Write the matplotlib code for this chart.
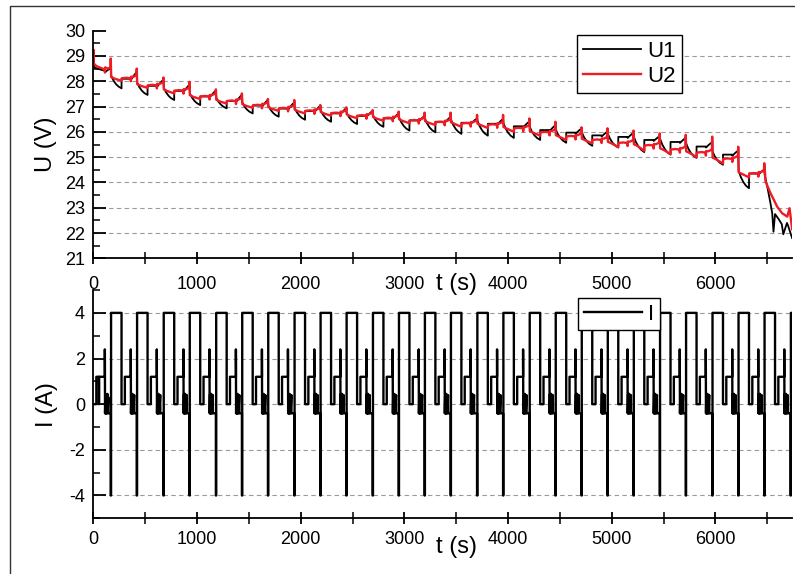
import numpy as np
import matplotlib
matplotlib.use("Agg")
import matplotlib.pyplot as plt
from matplotlib.lines import Line2D
from matplotlib.ticker import MultipleLocator
from matplotlib.transforms import blended_transform_factory

plt.rcParams["font.family"] = ["Liberation Sans", "DejaVu Sans"]
plt.rcParams["axes.unicode_minus"] = False

# times of the short -4 A pulses (s)
spike_t = [168, 419, 676, 927, 1182, 1433, 1684, 1938, 2189, 2440, 2694, 2945,
           3195, 3446, 3701, 3952, 4206, 4457, 4708, 4959, 5210, 5463, 5714,
           5969, 6220, 6471, 6725]

# current before the first pulse
i_head_t = [0, 29, 29, 53, 53, 56, 56, 111, 111, 113, 117, 118, 122, 123, 128, 129,
            136, 137, 145, 146, 166]
i_head_v = [0, 0, 1.2, 1.2, 0, 0, 1.2, 1.2, 2.4, -0.4, 0.45, -0.4, 0.35, -0.4, 0.3, -0.4,
            0.45, -0.4, 0.3, -0.4, -0.4]

# one current cycle, offsets from each -4 A pulse
i_cycle_dt = [0, 0, 3, 3, 104, 104, 136, 136, 193, 193, 195, 199, 200, 204, 205,
              210, 211, 217, 218, 226, 227, 248]
i_cycle_v = [-0.4, -4, -4, 4, 4, 0, 0, 1.2, 1.2, 2.4, -0.4, 0.45, -0.4, 0.35, -0.4,
             0.45, -0.4, 0.3, -0.4, 0.4, -0.4, -0.4]

# voltage levels per cycle (cycle k runs from pulse k-1 to pulse k)
u1_rest = [28.45, 28.10, 27.82, 27.62, 27.40, 27.22, 27.04, 26.92, 26.82, 26.73,
           26.63, 26.53, 26.45, 26.40, 26.36, 26.32, 26.22, 26.07, 25.97, 25.86,
           25.80, 25.68, 25.60, 25.42, 25.10, 24.35, 22.40]
u1_sag = [28.45, 27.72, 27.46, 27.26, 27.06, 26.93, 26.73, 26.60, 26.48, 26.40,
          26.31, 26.20, 26.05, 25.98, 25.92, 25.85, 25.76, 25.68, 25.57, 25.45,
          25.38, 25.20, 25.10, 24.97, 24.70, 23.77, 21.80]
u1_bump = [28.50, 28.35, 28.05, 27.85, 27.62, 27.45, 27.25, 27.15, 27.02, 26.93,
           26.82, 26.72, 26.62, 26.58, 26.52, 26.50, 26.40, 26.25, 26.12, 26.00,
           25.95, 25.82, 25.75, 25.58, 25.25, 24.50, 22.40]
u2_rest = [28.50, 28.12, 27.84, 27.63, 27.40, 27.22, 27.05, 26.93, 26.83, 26.74,
           26.64, 26.54, 26.45, 26.38, 26.33, 26.28, 26.14, 25.98, 25.82, 25.68,
           25.56, 25.46, 25.30, 25.18, 24.93, 24.35, 22.70]
u2_sag = [28.45, 28.02, 27.74, 27.52, 27.30, 27.12, 26.95, 26.83, 26.73, 26.64,
          26.54, 26.44, 26.34, 26.27, 26.20, 26.15, 26.00, 25.85, 25.68, 25.54,
          25.40, 25.25, 25.12, 25.00, 24.75, 24.20, 22.60]
# peaks at each -4 A pulse
u2_peak = [28.90, 28.50, 28.15, 27.98, 27.68, 27.52, 27.30, 27.26, 27.06, 26.97,
           26.86, 26.80, 26.76, 26.76, 26.67, 26.67, 26.53, 26.40, 26.18, 26.14,
           26.05, 25.94, 25.88, 25.81, 25.41, 24.76, 22.98]
u1_peak = [28.60, 28.40, 28.10, 27.90, 27.65, 27.48, 27.28, 27.18, 27.05, 26.95,
           26.84, 26.74, 26.66, 26.62, 26.55, 26.52, 26.45, 26.30, 26.15, 26.05,
           25.98, 25.86, 25.78, 25.62, 25.30, 24.55, 22.45]

# shape of the sag during the 4 A step and of the recovery bump
sag_f = [0.0, 0.2, 0.45, 0.7, 1.0]
sag_g = [0.0, 0.35, 0.65, 0.85, 1.0]
bump_f = [0.0, 0.4, 0.75, 1.0]
bump_g = [0.0, 0.45, 0.8, 1.0]

# first segment and the final drop, read directly
u1_head_t = [0, 2, 6, 40, 80, 110, 112, 140, 166]
u1_head_v = [28.60, 29.05, 28.55, 28.50, 28.45, 28.42, 28.35, 28.45, 28.50]
u2_head_t = [0, 1, 4, 30, 60, 90, 110, 112, 114, 140, 166]
u2_head_v = [28.70, 29.25, 28.70, 28.60, 28.55, 28.50, 28.45, 28.35, 28.55, 28.50, 28.55]
u1_tail_t = [6475, 6500, 6530, 6548, 6560, 6575, 6610, 6640, 6655, 6690, 6700, 6740]
u1_tail_v = [24.30, 23.84, 23.20, 22.78, 22.05, 22.75, 22.55, 22.35, 21.95, 22.40, 22.30, 21.80]
u2_tail_t = [6478, 6484, 6532, 6564, 6596, 6644, 6693, 6715, 6740]
u2_tail_v = [24.40, 24.03, 23.57, 23.31, 23.04, 22.78, 22.65, 22.98, 22.15]


def build_current():
    t = list(i_head_t)
    v = list(i_head_v)
    for ts in spike_t:
        t += [ts + d for d in i_cycle_dt]
        v += i_cycle_v
    return t, v


def build_u1():
    t = list(u1_head_t)
    v = list(u1_head_v)
    for k in range(1, len(spike_t) - 1):
        s, e = spike_t[k - 1], spike_t[k]
        rest, sag, bump = u1_rest[k], u1_sag[k], u1_bump[k]
        top = rest + 0.12
        t.append(s)
        v.append(u1_peak[k - 1])
        for f, g in zip(sag_f, sag_g):
            t.append(s + 4 + 100 * f)
            v.append(top - (top - sag) * g)
        t += [s + 104, s + 193, s + 195]
        v += [rest, rest, rest - 0.04]
        for f, g in zip(bump_f[1:], bump_g[1:]):
            t.append(s + 195 + (e - 3 - s - 195) * f)
            v.append(rest - 0.04 + (bump - rest + 0.04) * g)
    t += [spike_t[-2]]
    v += [u1_peak[-2]]
    t += u1_tail_t
    v += u1_tail_v
    return t, v


def build_u2():
    t = list(u2_head_t)
    v = list(u2_head_v)
    for k in range(1, len(spike_t) - 1):
        s, e = spike_t[k - 1], spike_t[k]
        rest, sag = u2_rest[k], u2_sag[k]
        t += [s, s + 4, s + 40, s + 104, s + 106, s + 150, s + 193, s + 194,
              s + 196, s + 215, e - 3]
        v += [u2_peak[k - 1], rest + 0.05, rest - 0.02, sag, rest, rest + 0.02, rest,
              rest - 0.12, rest + 0.06, rest + 0.05, rest + 0.12]
    t += [spike_t[-2]]
    v += [u2_peak[-2]]
    t += u2_tail_t
    v += u2_tail_v
    return t, v


def style_axis(ax, ylim, ymajor, yminor, grid_levels, xpad):
    ax.set_xlim(0, 6740)
    ax.set_ylim(*ylim)
    ax.patch.set_alpha(0)
    ax.xaxis.set_major_locator(MultipleLocator(1000))
    ax.xaxis.set_minor_locator(MultipleLocator(500))
    ax.yaxis.set_major_locator(MultipleLocator(ymajor))
    ax.yaxis.set_minor_locator(MultipleLocator(yminor))
    for side in ["top", "right"]:
        ax.spines[side].set_visible(False)
    for side in ["left", "bottom"]:
        ax.spines[side].set_linewidth(1.3)
    ax.tick_params(axis="y", which="major", direction="in", length=9, width=1.3,
                   labelsize=13, pad=6)
    ax.tick_params(axis="y", which="minor", direction="in", length=5, width=1.1)
    ax.tick_params(axis="x", which="major", direction="inout", length=8, width=1.3,
                   labelsize=13, pad=xpad)
    ax.tick_params(axis="x", which="minor", direction="inout", length=8, width=1.1)
    for y in grid_levels:
        ax.axhline(y, color="#9a9a9a", ls=(0, (4, 3)), lw=0.8, zorder=0)


fig = plt.figure(figsize=(7.95, 5.74), dpi=100)
ax1 = fig.add_axes([0.1174, 0.550, 0.879, 0.3965])
ax2 = fig.add_axes([0.1174, 0.097, 0.879, 0.3977])

t1, v1 = build_u1()
t2, v2 = build_u2()
ax1.plot(t1, v1, color="black", lw=1.3, label="U1")
ax1.plot(t2, v2, color="#ee1c24", lw=1.7, label="U2")
style_axis(ax1, (21, 30), 1, 0.5, range(22, 30), 9)
ax1.set_ylabel("U (V)", fontsize=17, labelpad=6)
tr1 = blended_transform_factory(ax1.transData, ax1.transAxes)
ax1.text(3500, -0.113, "t (s)", transform=tr1, fontsize=17, ha="center", va="center")
ax1.legend(loc="upper left", bbox_to_anchor=(0.6927, 0.981), borderaxespad=0,
           fontsize=16, fancybox=False, edgecolor="black", framealpha=1,
           handlelength=2.6, handletextpad=0.3, borderpad=0.25, labelspacing=0.2)

ti, vi = build_current()
ax2.plot(ti, vi, color="black", lw=1.7, label="I")
style_axis(ax2, (-5, 5), 2, 1, [-4, -2, 0, 2, 4], 5)
ax2.set_ylabel("I (A)", fontsize=17, labelpad=8)
tr2 = blended_transform_factory(ax2.transData, ax2.transAxes)
ax2.text(3500, -0.126, "t (s)", transform=tr2, fontsize=17, ha="center", va="center")
ax2.legend(loc="upper left", bbox_to_anchor=(0.694, 0.964), borderaxespad=0,
           fontsize=16, fancybox=False, edgecolor="black", framealpha=1,
           handlelength=2.6, handletextpad=0.3, borderpad=0.25)

# outer frame
fig.add_artist(Line2D([10 / 795, 10 / 795, 1.0], [0.0, 1 - 6 / 574, 1 - 6 / 574],
                      color="#333333", lw=1.0))

fig.savefig("out.png", dpi=100)
